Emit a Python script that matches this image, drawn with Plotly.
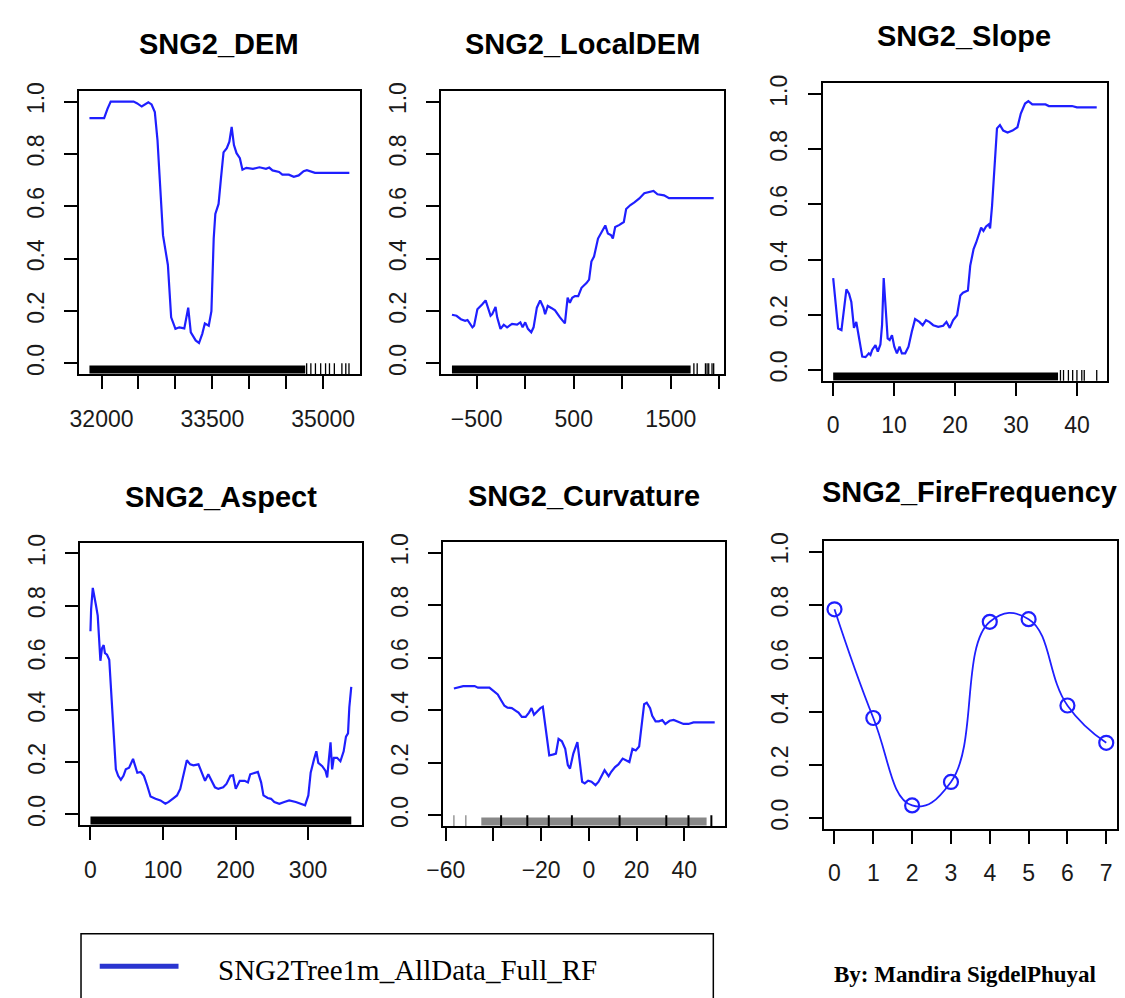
import plotly.graph_objects as go

W, H = 1125, 998

# ---------------- data ----------------
dem_x = [31836, 32035, 32080, 32124, 32434, 32478, 32544, 32589, 32633, 32677, 32721, 32757, 32788, 32832,
         32898, 32942, 33000, 33053, 33120, 33173, 33208, 33274, 33319, 33363, 33398, 33451, 33487, 33518,
         33540, 33584, 33615, 33651, 33695, 33730, 33761, 33792, 33827, 33872, 33907, 33960, 34049, 34137,
         34226, 34270, 34314, 34403, 34447, 34535, 34602, 34668, 34735, 34779, 34889, 35354]
dem_y = [0.937, 0.937, 0.972, 1.0, 1.0, 0.994, 0.981, 0.989, 0.997, 0.989, 0.96, 0.853, 0.69, 0.489,
         0.376, 0.176, 0.132, 0.138, 0.134, 0.213, 0.119, 0.088, 0.078, 0.113, 0.153, 0.144, 0.2, 0.477,
         0.571, 0.609, 0.703, 0.806, 0.822, 0.847, 0.903, 0.834, 0.803, 0.784, 0.74, 0.747, 0.743, 0.749,
         0.743, 0.748, 0.737, 0.731, 0.721, 0.721, 0.713, 0.718, 0.734, 0.738, 0.728, 0.728]
dem_rug_band = [31836, 34757]
dem_rug_ticks = [34776, 34833, 34895, 34966, 35032, 35085, 35151, 35253, 35306, 35349]

ldem_x = [-755, -708, -663, -619, -595, -544, -527, -493, -442, -408, -357, -340, -306, -289, -255, -221,
          -187, -136, -84, -50, -27, 0, 28, 62, 86, 120, 154, 188, 205, 232, 273, 307, 358, 409, 437, 460,
          484, 512, 546, 580, 631, 658, 682, 709, 750, 791, 825, 852, 886, 903, 927, 971, 1016, 1040, 1084,
          1125, 1176, 1227, 1278, 1322, 1363, 1431, 1482, 1942]
ldem_y = [0.186, 0.182, 0.169, 0.163, 0.166, 0.138, 0.144, 0.207, 0.226, 0.241, 0.182, 0.188, 0.216, 0.176,
          0.132, 0.148, 0.138, 0.151, 0.148, 0.157, 0.138, 0.157, 0.132, 0.119, 0.138, 0.213, 0.241, 0.213,
          0.188, 0.22, 0.211, 0.203, 0.176, 0.153, 0.251, 0.232, 0.251, 0.257, 0.257, 0.289, 0.307, 0.32,
          0.389, 0.408, 0.477, 0.502, 0.527, 0.496, 0.489, 0.477, 0.521, 0.529, 0.54, 0.59, 0.605, 0.615,
          0.63, 0.65, 0.655, 0.659, 0.646, 0.642, 0.631, 0.631]
ldem_rug_band = [-755, 1704]
ldem_rug_ticks = [1738, 1772, 1857, 1874, 1891, 1925, 1942]

slope_x = [0, 0.43, 0.81, 1.36, 1.68, 2.17, 2.6, 2.98, 3.41, 3.79, 4.07, 4.5, 4.77, 5.31, 5.85, 6.12, 6.4,
           6.94, 7.32, 7.75, 8.02, 8.29, 8.62, 8.94, 9.27, 9.65, 10.03, 10.46, 10.89, 11.27, 11.82, 12.36,
           12.9, 13.44, 14.15, 14.69, 15.23, 15.77, 16.42, 17.24, 18.05, 18.59, 19.13, 19.67, 20.33, 20.87,
           21.3, 22.11, 22.49, 23.04, 23.47, 24.28, 24.66, 25.09, 25.53, 25.75, 26.07, 26.45, 26.88, 27.37,
           27.91, 28.62, 29.43, 30.24, 30.79, 31.49, 32.03, 32.68, 34.85, 35.39, 39.19, 40.0, 43.25]
slope_y = [0.333, 0.234, 0.15, 0.144, 0.21, 0.292, 0.276, 0.246, 0.152, 0.174, 0.138, 0.084, 0.048, 0.046,
           0.06, 0.054, 0.072, 0.09, 0.066, 0.092, 0.162, 0.333, 0.198, 0.114, 0.108, 0.126, 0.084, 0.06,
           0.084, 0.06, 0.06, 0.084, 0.138, 0.184, 0.174, 0.162, 0.18, 0.174, 0.162, 0.156, 0.16, 0.174,
           0.152, 0.18, 0.198, 0.27, 0.28, 0.288, 0.378, 0.438, 0.462, 0.516, 0.504, 0.52, 0.528, 0.513,
           0.594, 0.75, 0.876, 0.888, 0.868, 0.861, 0.868, 0.88, 0.93, 0.966, 0.975, 0.963, 0.963, 0.957,
           0.957, 0.952, 0.952]
slope_rug_band = [0, 36.9]
slope_rug_ticks = [37.3, 37.8, 38.6, 39.3, 40.0, 40.8, 41.2, 43.25]

aspect_x = [0, 0.9, 3.2, 5.5, 7.7, 10, 12.3, 13.7, 15.9, 18.2, 20, 22.8, 25.9, 28.2, 31.9, 35, 38.2, 41.9,
            45.5, 48.7, 53.3, 55.5, 58.7, 61, 64.6, 69.2, 73.7, 78.3, 82.8, 89.7, 96.5, 103.3, 107.9, 114.7,
            119.3, 123.8, 128.4, 132.9, 137.5, 142, 148.9, 153.4, 158, 162.5, 167.1, 171.6, 176.2, 183,
            187.5, 193, 196.6, 200.3, 205.8, 212.6, 217.1, 220.3, 224.9, 230.8, 235.3, 238.5, 244.4, 249,
            253.5, 260.4, 267.2, 274, 283.1, 291.3, 295.9, 300.4, 303.6, 308.2, 311.4, 314.1, 319.6, 324.1,
            326.4, 328.7, 331, 333.2, 335.5, 340, 344.6, 349.1, 352.3, 355.1, 356.9, 359.6]
aspect_y = [0.702, 0.787, 0.868, 0.825, 0.8, 0.762, 0.655, 0.589, 0.637, 0.649, 0.618, 0.612, 0.593, 0.486,
            0.298, 0.173, 0.148, 0.133, 0.148, 0.173, 0.179, 0.195, 0.213, 0.192, 0.16, 0.163, 0.148, 0.11,
            0.069, 0.06, 0.054, 0.041, 0.048, 0.063, 0.073, 0.098, 0.16, 0.208, 0.192, 0.188, 0.192, 0.16,
            0.129, 0.154, 0.129, 0.104, 0.098, 0.104, 0.117, 0.148, 0.15, 0.098, 0.129, 0.129, 0.123, 0.154,
            0.158, 0.163, 0.123, 0.073, 0.063, 0.06, 0.048, 0.041, 0.048, 0.054, 0.048, 0.038, 0.035, 0.073,
            0.16, 0.211, 0.242, 0.198, 0.185, 0.167, 0.142, 0.211, 0.276, 0.173, 0.217, 0.217, 0.204, 0.242,
            0.298, 0.311, 0.411, 0.489]
aspect_rug_band = [0, 359.6]
aspect_rug_ticks = []

curv_x = [-56.6, -54.8, -52.7, -47.9, -46.5, -41.7, -40.3, -38.2, -36.8, -35.4, -34.1, -32.3, -30.6, -29.5,
          -28.1, -26.5, -25.1, -24, -23, -21.7, -20.3, -19.3, -18.2, -16.6, -14.8, -13.8, -12.7, -11.3, -9.9,
          -8.8, -7.9, -6.5, -4.8, -3.7, -2.8, -1.7, -0.3, 1.1, 2.8, 4.1, 5.5, 6.6, 8.3, 9.4, 11, 12.4, 14.2,
          15.6, 17, 18.3, 19.7, 21.1, 22.1, 23.2, 24.3, 25.7, 26.6, 28, 29.4, 30.8, 32.1, 33.9, 35.6, 37.7,
          39.7, 41.8, 43.9, 52.8]
curv_y = [0.483, 0.486, 0.492, 0.492, 0.486, 0.486, 0.476, 0.46, 0.438, 0.417, 0.41, 0.408, 0.398, 0.391,
          0.375, 0.375, 0.391, 0.408, 0.383, 0.395, 0.408, 0.413, 0.335, 0.228, 0.232, 0.235, 0.291, 0.282,
          0.253, 0.191, 0.178, 0.235, 0.279, 0.184, 0.128, 0.122, 0.132, 0.128, 0.115, 0.128, 0.153, 0.172,
          0.149, 0.166, 0.184, 0.194, 0.216, 0.21, 0.203, 0.253, 0.247, 0.262, 0.335, 0.423, 0.429, 0.408,
          0.379, 0.358, 0.358, 0.363, 0.348, 0.36, 0.363, 0.354, 0.348, 0.348, 0.354, 0.354]
curv_rug_band = [-45.1, 49.4]
curv_rug_light = [-56.6, -51.6]
curv_rug_ticks = [-36.8, -25.8, -16.8, -7.1, 12.9, 32.5, 41.8, 51.4]

fire_x = [0, 1, 2, 3, 4, 5, 6, 7]
fire_y = [0.784, 0.376, 0.048, 0.136, 0.737, 0.747, 0.423, 0.283]

y_ticks = [0, 0.2, 0.4, 0.6, 0.8, 1.0]
y_ticktext = ["0.0", "0.2", "0.4", "0.6", "0.8", "1.0"]

titles = ["SNG2_DEM", "SNG2_LocalDEM", "SNG2_Slope", "SNG2_Aspect", "SNG2_Curvature", "SNG2_FireFrequency"]
legend_label = "SNG2Tree1m_AllData_Full_RF"
credit = "By: Mandira SigdelPhuyal"

# x ticks per panel
x_tickvals = [
    [32000, 32500, 33000, 33500, 34000, 34500, 35000],
    [-500, 0, 500, 1000, 1500, 2000],
    [0, 10, 20, 30, 40],
    [0, 100, 200, 300],
    [-60, -40, -20, 0, 20, 40],
    [0, 1, 2, 3, 4, 5, 6, 7],
]
x_ticktext = [
    ["32000", "", "", "33500", "", "", "35000"],
    ["\u2212500", "", "500", "", "1500", ""],
    ["0", "10", "20", "30", "40"],
    ["0", "100", "200", "300"],
    ["\u221260", "", "\u221220", "0", "20", "40"],
    ["0", "1", "2", "3", "4", "5", "6", "7"],
]

# ---------------- layout geometry (pixels) ----------------
frames = [  # left, right, top, bottom
    (63, 348, 83, 369),
    (431, 718, 83, 369),
    (818, 1107, 75, 376),
    (64, 350, 540, 825),
    (433, 719, 539, 826),
    (819, 1117, 538, 829),
]
title_pos = [(205.5, 35), (574.5, 35), (962, 27), (207, 493), (576, 492), (967, 488)]

BLUE = "#1f1fff"
fig = go.Figure()

series = [(dem_x, dem_y), (ldem_x, ldem_y), (slope_x, slope_y), (aspect_x, aspect_y), (curv_x, curv_y)]
bands = [dem_rug_band, ldem_rug_band, slope_rug_band, aspect_rug_band, curv_rug_band]
rticks = [dem_rug_ticks, ldem_rug_ticks, slope_rug_ticks, aspect_rug_ticks, curv_rug_ticks]


def ax_names(i):
    n = "" if i == 0 else str(i + 1)
    return "x" + n, "y" + n, "xaxis" + n, "yaxis" + n


def px_range(vals):
    lo, hi = min(vals), max(vals)
    s = hi - lo
    return [lo - 0.04 * s, hi + 0.04 * s]


for i in range(6):
    xa, ya, xk, yk = ax_names(i)
    l, r, t, b = frames[i]
    fh = b - t
    rug_y = -0.04 + 4.5 / fh * 1.08
    if i < 5:
        xs, ys = series[i]
        band = bands[i]
        fig.add_trace(go.Scatter(x=band, y=[rug_y, rug_y], mode="lines",
                                 line=dict(color="#888888" if i == 4 else "black", width=8),
                                 xaxis=xa, yaxis=ya, showlegend=False, hoverinfo="skip"))
        if i == 4:
            fig.add_trace(go.Scatter(x=curv_rug_light, y=[rug_y] * len(curv_rug_light), mode="markers",
                                     marker=dict(symbol="line-ns", size=9, line=dict(width=1.5, color="#999999")),
                                     xaxis=xa, yaxis=ya, showlegend=False, hoverinfo="skip"))
        if rticks[i]:
            fig.add_trace(go.Scatter(x=rticks[i], y=[rug_y] * len(rticks[i]), mode="markers",
                                     marker=dict(symbol="line-ns", size=9,
                                                 line=dict(width=2 if i == 4 else 1.3, color="black")),
                                     xaxis=xa, yaxis=ya, showlegend=False, hoverinfo="skip"))
        fig.add_trace(go.Scatter(x=xs, y=ys, mode="lines", line=dict(color=BLUE, width=2.2),
                                 xaxis=xa, yaxis=ya, showlegend=False))
        xr = px_range(xs)
    else:
        fig.add_trace(go.Scatter(x=fire_x, y=fire_y, mode="lines+markers",
                                 line=dict(color=BLUE, width=1.8, shape="spline", smoothing=1.3),
                                 marker=dict(symbol="circle-open", size=14, color=BLUE, line=dict(width=2.2, color=BLUE)),
                                 xaxis=xa, yaxis=ya, showlegend=False))
        xr = px_range(fire_x)

    common = dict(showline=True, mirror=True, linewidth=2, linecolor="black",
                  ticks="outside", ticklen=13, tickwidth=2, tickcolor="black",
                  showgrid=False, zeroline=False,
                  tickfont=dict(family="Liberation Sans, Arial, sans-serif", size=23, color="#1a1a1a"))
    fig.layout[xk] = dict(domain=[l / W, r / W], anchor=ya, range=xr,
                          tickmode="array", tickvals=x_tickvals[i], ticktext=x_ticktext[i],
                          ticklabelstandoff=10, **common)
    fig.layout[yk] = dict(domain=[1 - b / H, 1 - t / H], anchor=xa, range=[-0.04, 1.04],
                          tickmode="array", tickvals=y_ticks, ticktext=y_ticktext, tickangle=-90,
                          ticklabelstandoff=11, **common)
    tx, ty = title_pos[i]
    fig.add_annotation(x=tx / W, y=1 - ty / H, xref="paper", yref="paper", text="<b>%s</b>" % titles[i],
                       showarrow=False, xanchor="center", yanchor="middle",
                       font=dict(family="Liberation Sans, Arial, sans-serif", size=29, color="black"))

# legend box and credit
fig.add_shape(type="rect", xref="paper", yref="paper", x0=65 / W, x1=707 / W, y0=1 - 1010 / H, y1=1 - 935 / H,
              line=dict(color="black", width=1.5))
fig.add_shape(type="line", xref="paper", yref="paper", x0=84 / W, x1=164 / W, y0=1 - 968 / H, y1=1 - 968 / H,
              line=dict(color="#2a35d0", width=5))
fig.add_annotation(x=202 / W, y=1 - 972 / H, xref="paper", yref="paper", text=legend_label, showarrow=False,
                   xanchor="left", yanchor="middle",
                   font=dict(family="Liberation Serif, Times New Roman, serif", size=29, color="black"))
fig.add_annotation(x=828 / W, y=1 - 976 / H, xref="paper", yref="paper", text="<b>%s</b>" % credit,
                   showarrow=False, xanchor="left", yanchor="middle",
                   font=dict(family="Liberation Serif, Times New Roman, serif", size=23, color="black"))

fig.update_layout(width=W, height=H, margin=dict(l=0, r=0, t=0, b=0),
                  paper_bgcolor="white", plot_bgcolor="white", showlegend=False)
fig.write_html("out.html",
               post_script="document.body.style.margin='0';document.body.style.overflow='hidden';")
